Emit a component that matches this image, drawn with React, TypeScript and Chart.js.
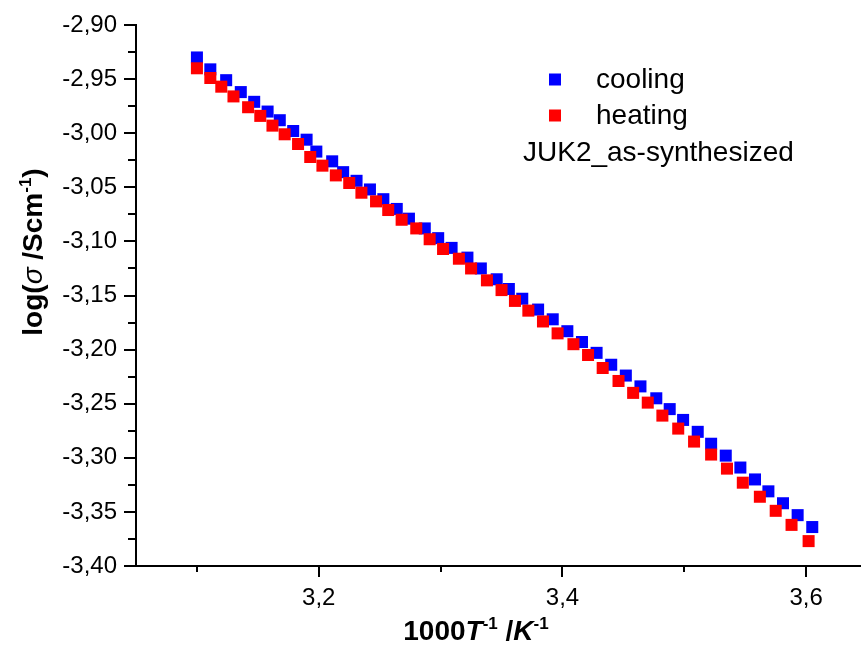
import React, { useEffect, useRef } from 'react';
import { Chart, registerables } from 'chart.js';

Chart.register(...registerables);

// ---- data ----
const coolingX = [
  3.100, 3.111, 3.124, 3.136, 3.147, 3.158, 3.168, 3.179, 3.190, 3.198,
  3.211, 3.220, 3.231, 3.242, 3.253, 3.264, 3.274, 3.287, 3.298, 3.309,
  3.322, 3.333, 3.346, 3.356, 3.367, 3.380, 3.392, 3.404, 3.416, 3.428,
  3.440, 3.452, 3.464, 3.477, 3.488, 3.499, 3.511, 3.522, 3.534, 3.546,
  3.558, 3.569, 3.581, 3.593, 3.605,
];
const coolingY = [
  -2.930, -2.941, -2.951, -2.962, -2.971, -2.980, -2.988, -2.998, -3.006, -3.017,
  -3.026, -3.036, -3.044, -3.052, -3.061, -3.070, -3.079, -3.088, -3.097, -3.106,
  -3.115, -3.125, -3.135, -3.144, -3.153, -3.163, -3.172, -3.183, -3.193, -3.203,
  -3.214, -3.224, -3.234, -3.245, -3.255, -3.265, -3.276, -3.287, -3.298, -3.309,
  -3.320, -3.331, -3.342, -3.353, -3.364,
];
const heatingX = [
  3.100, 3.111, 3.120, 3.130, 3.142, 3.152, 3.162, 3.172, 3.183, 3.193,
  3.203, 3.214, 3.225, 3.235, 3.247, 3.257, 3.268, 3.280, 3.291, 3.302,
  3.315, 3.325, 3.338, 3.350, 3.361, 3.372, 3.384, 3.396, 3.409, 3.421,
  3.433, 3.446, 3.458, 3.470, 3.482, 3.495, 3.508, 3.522, 3.535, 3.548,
  3.562, 3.575, 3.588, 3.602,
];
const heatingY = [
  -2.940, -2.949, -2.957, -2.966, -2.976, -2.984, -2.993, -3.001, -3.010, -3.022,
  -3.030, -3.039, -3.046, -3.055, -3.063, -3.071, -3.080, -3.088, -3.098, -3.107,
  -3.116, -3.125, -3.136, -3.145, -3.155, -3.164, -3.174, -3.185, -3.195, -3.205,
  -3.217, -3.229, -3.240, -3.249, -3.261, -3.273, -3.285, -3.297, -3.310, -3.323,
  -3.336, -3.349, -3.362, -3.377,
];

const xMajorTicks = [3.2, 3.4, 3.6];
const xMinorTicks = [3.1, 3.3, 3.5];
const yMajorTicks = [-2.9, -2.95, -3.0, -3.05, -3.1, -3.15, -3.2, -3.25, -3.3, -3.35, -3.4];
const yMinorTicks = [-2.925, -2.975, -3.025, -3.075, -3.125, -3.175, -3.225, -3.275, -3.325, -3.375];

const seriesNames = ['cooling', 'heating'];
const seriesColors = ['#0000ff', '#ff0000'];
const sampleLabel = 'JUK2_as-synthesized';

const FAMILY = '"Liberation Sans", Arial, Helvetica, sans-serif';

type Part = { t: string; font: string; sup?: boolean };

function drawRich(ctx: CanvasRenderingContext2D, parts: Part[], cx: number, baseline: number) {
  let total = 0;
  const widths: number[] = [];
  for (const p of parts) {
    ctx.font = p.font;
    const w = ctx.measureText(p.t).width;
    widths.push(w);
    total += w;
  }
  let x = cx - total / 2;
  ctx.textAlign = 'left';
  ctx.textBaseline = 'alphabetic';
  parts.forEach((p, i) => {
    ctx.font = p.font;
    ctx.fillText(p.t, x, p.sup ? baseline - 11 : baseline);
    x += widths[i];
  });
}

const decorPlugin = {
  id: 'decor',
  afterDraw(chart: any) {
    const ctx: CanvasRenderingContext2D = chart.ctx;
    const xs = chart.scales.x;
    const ys = chart.scales.y;
    const area = chart.chartArea;
    ctx.save();
    ctx.strokeStyle = '#000';
    ctx.lineWidth = 2;
    ctx.beginPath();
    for (const v of xMajorTicks) {
      const px = Math.round(xs.getPixelForValue(v));
      ctx.moveTo(px, area.bottom);
      ctx.lineTo(px, area.bottom + 11);
    }
    for (const v of xMinorTicks) {
      const px = Math.round(xs.getPixelForValue(v));
      ctx.moveTo(px, area.bottom);
      ctx.lineTo(px, area.bottom + 6);
    }
    for (const v of yMajorTicks) {
      const py = Math.round(ys.getPixelForValue(v));
      ctx.moveTo(area.left, py);
      ctx.lineTo(area.left - 12, py);
    }
    for (const v of yMinorTicks) {
      const py = Math.round(ys.getPixelForValue(v));
      ctx.moveTo(area.left, py);
      ctx.lineTo(area.left - 8, py);
    }
    ctx.stroke();

    ctx.fillStyle = '#000';
    // x title
    drawRich(ctx, [
      { t: '1000', font: `bold 28px ${FAMILY}` },
      { t: 'T', font: `italic bold 28px ${FAMILY}` },
      { t: '-1', font: `bold 17px ${FAMILY}`, sup: true },
      { t: ' /', font: `bold 28px ${FAMILY}` },
      { t: 'K', font: `italic bold 28px ${FAMILY}` },
      { t: '-1', font: `bold 17px ${FAMILY}`, sup: true },
    ], 476, 640);

    // y title
    ctx.save();
    ctx.translate(42, 252);
    ctx.rotate(-Math.PI / 2);
    drawRich(ctx, [
      { t: 'log(', font: `bold 28px ${FAMILY}` },
      { t: 'σ', font: `italic 28px ${FAMILY}` },
      { t: ' /Scm', font: `bold 28px ${FAMILY}` },
      { t: '-1', font: `bold 17px ${FAMILY}`, sup: true },
      { t: ')', font: `bold 28px ${FAMILY}` },
    ], 0, 0);
    ctx.restore();

    // legend
    ctx.font = `28px ${FAMILY}`;
    ctx.textAlign = 'left';
    ctx.textBaseline = 'middle';
    const rows = [79.5, 115.5];
    seriesNames.forEach((name, i) => {
      ctx.fillStyle = seriesColors[i];
      ctx.fillRect(549, rows[i] - 6, 12, 12);
      ctx.fillStyle = '#000';
      ctx.fillText(name, 596, rows[i] + 1);
    });
    ctx.fillText(sampleLabel, 523, 153);
    ctx.restore();
  },
};

export default function App() {
  const ref = useRef<HTMLCanvasElement | null>(null);
  useEffect(() => {
    if (!ref.current) return;
    const chart = new Chart(ref.current, {
      type: 'scatter',
      data: {
        datasets: [
          {
            label: seriesNames[0],
            data: coolingX.map((x, i) => ({ x, y: coolingY[i] })),
            backgroundColor: seriesColors[0],
            borderWidth: 0,
            pointStyle: 'rect',
            pointRadius: 8.5,
            order: 2,
          },
          {
            label: seriesNames[1],
            data: heatingX.map((x, i) => ({ x, y: heatingY[i] })),
            backgroundColor: seriesColors[1],
            borderWidth: 0,
            pointStyle: 'rect',
            pointRadius: 8.5,
            order: 1,
          },
        ],
      },
      plugins: [decorPlugin],
      options: {
        responsive: false,
        animation: false,
        devicePixelRatio: 1,
        layout: { autoPadding: false, padding: { top: 25, right: 0, left: 0, bottom: 0 } },
        plugins: { legend: { display: false }, tooltip: { enabled: false } },
        scales: {
          x: {
            type: 'linear',
            min: 3.05,
            max: 3.645,
            grid: { display: false, drawTicks: false },
            border: { display: true, color: '#000', width: 2 },
            afterBuildTicks: (s: any) => { s.ticks = xMajorTicks.map((v) => ({ value: v })); },
            afterFit: (s: any) => { s.height = 80; s.paddingLeft = 0; s.paddingRight = 0; },
            ticks: {
              autoSkip: false,
              maxRotation: 0,
              padding: 18,
              color: '#000',
              font: { family: FAMILY, size: 24 },
              callback: (v: any) => Number(v).toFixed(1).replace('.', ','),
            },
          },
          y: {
            type: 'linear',
            min: -3.4,
            max: -2.9,
            grid: { display: false, drawTicks: false },
            border: { display: true, color: '#000', width: 2 },
            afterBuildTicks: (s: any) => { s.ticks = yMajorTicks.map((v) => ({ value: v })); },
            afterFit: (s: any) => { s.width = 136; s.paddingTop = 0; s.paddingBottom = 0; },
            ticks: {
              autoSkip: false,
              padding: 19,
              color: '#000',
              font: { family: FAMILY, size: 24 },
              callback: (v: any) => Number(v).toFixed(2).replace('.', ','),
            },
          },
        },
      },
    });
    return () => chart.destroy();
  }, []);
  return (
    <div style={{ position: 'absolute', left: 0, top: 0, width: 861, height: 646, background: '#fff' }}>
      <canvas ref={ref} width={861} height={646} style={{ display: 'block' }} />
    </div>
  );
}
